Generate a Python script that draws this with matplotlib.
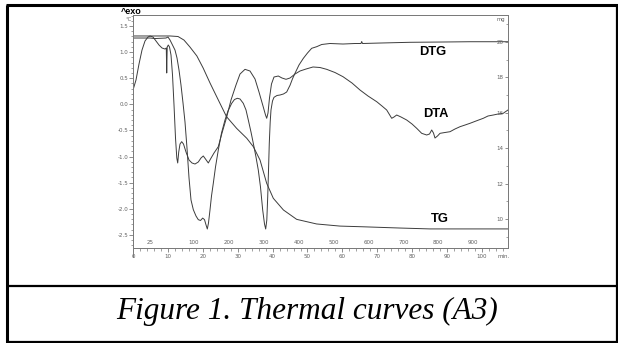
import matplotlib
matplotlib.use("Agg")
import matplotlib.pyplot as plt
from matplotlib.lines import Line2D
from matplotlib.ticker import MultipleLocator, FixedLocator
import matplotlib.transforms as mtransforms

# ---------------- data ----------------
# time in minutes, TG in mg (right axis)
tg_t = [0, 10.6, 12.9, 14.6, 16.3, 18.3, 20.1, 22.1, 24.9, 26.8, 29.7, 32.6, 34.5,
        36.4, 38.3, 40.2, 43.1, 46.9, 52.6, 59.3, 66.0, 76.5, 85.1, 96.6, 107.4]
tg_mg = [20.34, 20.34, 20.31, 20.11, 19.72, 19.21, 18.53, 17.67, 16.54, 15.78, 15.12,
         14.56, 14.08, 13.33, 12.02, 11.17, 10.51, 9.98, 9.72, 9.60, 9.56, 9.49, 9.44,
         9.44, 9.44]

# DTA (left axis, °C)
dta_t = [0, 0.86, 1.72, 2.58, 3.44, 4.3, 4.87, 5.73, 6.59, 7.45, 8.31, 9.17, 9.54, 9.66,
         9.8, 10.11, 10.46, 10.89, 11.32, 11.75, 12.18, 12.55, 12.81, 13.1, 13.47, 13.95,
         14.47, 15.19, 16.05, 16.9, 17.77, 18.71, 19.48, 20.14, 20.77, 21.58, 22.21, 23.21,
         24.44, 25.5, 26.85, 28.08, 29.51, 30.66, 32.09, 33.52, 34.96, 36.1, 37.25, 37.97,
         38.31, 38.68, 39.11, 39.68, 40.4, 41.63, 42.69, 43.84, 44.99, 46.42, 47.85, 49.57,
         51.58, 53.58, 55.5, 57.88, 60.17, 62.75, 65.04, 67.34, 69.83, 71.35, 72.69, 74.13,
         74.79, 75.56, 76.79, 78.42, 79.94, 81.29, 82.72, 84.15, 84.96, 85.59, 86.1, 86.53,
         87.25, 87.97, 89.4, 90.83, 92.26, 93.7, 95.13, 96.56, 98.28, 100.37, 101.72,
         103.24, 104.58, 106.1, 106.59, 107.45]
dta_v = [0.274, 0.466, 0.772, 1.04, 1.213, 1.289, 1.308, 1.289, 1.213, 1.136, 1.079,
         1.059, 1.079, 0.6, 1.098, 1.136, 1.098, 0.944, 0.561, -0.013, -0.646, -1.029,
         -1.124, -0.914, -0.761, -0.716, -0.761, -0.914, -1.067, -1.124, -1.144, -1.105,
         -1.029, -0.99, -1.048, -1.124, -1.048, -0.933, -0.812, -0.55, -0.243, 0.082, 0.37,
         0.58, 0.67, 0.638, 0.485, 0.236, -0.033, -0.205, -0.268, -0.167, 0.121, 0.389,
         0.523, 0.542, 0.504, 0.479, 0.504, 0.58, 0.638, 0.676, 0.715, 0.705, 0.67, 0.609,
         0.529, 0.408, 0.274, 0.159, 0.05, -0.033, -0.109, -0.268, -0.243, -0.205, -0.243,
         -0.301, -0.377, -0.46, -0.556, -0.588, -0.569, -0.492, -0.55, -0.646, -0.607,
         -0.556, -0.54, -0.525, -0.473, -0.429, -0.397, -0.364, -0.32, -0.268, -0.224,
         -0.205, -0.186, -0.172, -0.148, -0.109]

# DTG (left axis scale)
dtg_t = [0, 4.87, 6.3, 9.46, 10.03, 10.6, 11.32, 12.03, 12.61, 13.18, 13.75, 14.33, 14.9,
         15.47, 16.05, 16.62, 17.28, 18.05, 18.71, 19.34, 19.97, 20.49, 20.92, 21.29, 21.63,
         22.06, 22.49, 23.01, 23.64, 24.44, 25.36, 26.36, 27.22, 28.28, 29.08, 29.89, 30.66,
         31.6, 32.38, 33.04, 33.81, 34.47, 35.24, 35.9, 36.53, 37.16, 37.68, 38.02, 38.34,
         38.6, 38.83, 39.05, 39.31, 39.54, 39.97, 40.4, 41.26, 42.12, 43.12, 44.04, 44.56,
         44.99, 45.7, 46.42, 47.56, 48.8, 50, 51.2, 52.64, 54.07, 56.45, 60.17, 63.61, 65.33,
         65.53, 65.76, 70.77, 79.37, 87.97, 96.56, 107.45]
dtg_v = [1.27, 1.27, 1.26, 1.27, 1.289, 1.232, 1.136, 1.04, 0.887, 0.657, 0.37, 0.025,
         -0.339, -0.837, -1.411, -1.833, -2.018, -2.14, -2.21, -2.226, -2.18, -2.21, -2.31,
         -2.389, -2.274, -2.025, -1.757, -1.513, -1.201, -0.876, -0.55, -0.301, -0.128,
         0.019, 0.092, 0.115, 0.102, 0.019, -0.109, -0.301, -0.531, -0.747, -1.01, -1.259,
         -1.585, -2.025, -2.293, -2.389, -2.218, -1.772, -1.259, -0.747, -0.339, -0.109,
         0.063, 0.134, 0.169, 0.178, 0.198, 0.236, 0.307, 0.364, 0.489, 0.594, 0.753, 0.88,
         0.983, 1.073, 1.104, 1.146, 1.165, 1.155, 1.165, 1.165, 1.203, 1.165, 1.174, 1.188,
         1.193, 1.199, 1.199]

left_ticks = [1.5, 1.0, 0.5, 0.0, -0.5, -1.0, -1.5, -2.0, -2.5]
left_labels = ["1.5", "1.0", "0.5", "0.0", "-0.5", "-1.0", "-1.5", "-2.0", "-2.5"]
right_ticks = [10, 12, 14, 16, 18, 20]
time_ticks = [0, 10, 20, 30, 40, 50, 60, 70, 80, 90, 100]
temp_pos = [5, 17.5, 27.5, 37.5, 47.5, 57.5, 67.5, 77.5, 87.5, 97.5]
temp_labels = ["25", "100", "200", "300", "400", "500", "600", "700", "800", "900"]
caption = "Figure 1. Thermal curves (A3)"

# ---------------- figure ----------------
W, H = 618, 343
fig = plt.figure(figsize=(W / 100, H / 100), dpi=100)
fig.patch.set_facecolor("white")

def fx(px):
    return px / W

def fy(py):
    return 1 - py / H

# document frame
for (x0, y0, x1, y1, lw) in [(7, 4.5, 7, 342, 2.2), (6, 5.2, 618, 5.2, 2.2),
                             (616.8, 4.5, 616.8, 342, 1.6), (6, 285.8, 618, 285.8, 1.6),
                             (6, 341.8, 618, 341.8, 1.6)]:
    fig.add_artist(Line2D([fx(x0), fx(x1)], [fy(y0), fy(y1)], color="black",
                          linewidth=lw, solid_capstyle="butt"))

gray = "#7a7a7a"
lab = "#606060"
curve = "#3c3c3c"

ax = fig.add_axes([fx(133), fy(248), fx(508) - fx(133), fy(15) - fy(248)])
ax.set_facecolor("none")
ax.set_xlim(0, 107.45)
ax.set_ylim(-2.753, 1.711)
for s in ax.spines.values():
    s.set_color(gray)
    s.set_linewidth(0.7)
# left spine continues a little below the time axis
ax.plot([0, 0], [-2.753, -2.93], color=gray, lw=0.7, clip_on=False)

ax.plot(dta_t, dta_v, color=curve, lw=0.7)
ax.plot(dtg_t, dtg_v, color=curve, lw=0.7)

ax.yaxis.set_major_locator(FixedLocator(left_ticks))
ax.set_yticklabels(left_labels)
ax.yaxis.set_minor_locator(MultipleLocator(0.1))
ax.tick_params(axis="y", which="major", direction="out", length=3, width=0.6,
               color=gray, labelsize=4, labelcolor=lab, pad=0.5)
ax.tick_params(axis="y", which="minor", direction="out", length=1.6, width=0.5, color=gray)
ax.xaxis.set_major_locator(FixedLocator(time_ticks))
ax.xaxis.set_minor_locator(MultipleLocator(2))
ax.tick_params(axis="x", which="major", direction="out", length=3, width=0.6,
               color=gray, labelsize=4, labelcolor=lab, pad=1.5)
ax.tick_params(axis="x", which="minor", direction="out", length=2, width=0.5, color=gray)

ax2 = ax.twinx()
ax2.set_ylim(8.362, 21.525)
ax2.plot(tg_t, tg_mg, color=curve, lw=0.7)
for s in ax2.spines.values():
    s.set_color(gray)
    s.set_linewidth(0.7)
ax2.yaxis.set_major_locator(FixedLocator(right_ticks))
ax2.yaxis.set_minor_locator(MultipleLocator(1))
ax2.tick_params(axis="y", which="major", direction="in", length=2.5, width=0.6,
                color=gray, labelsize=4, labelcolor=lab, pad=-3)
ax2.tick_params(axis="y", which="minor", direction="in", length=1.5, width=0.5, color=gray)
for t in ax2.get_yticklabels():
    t.set_horizontalalignment("right")

# temperature labels above the time axis
btr = mtransforms.blended_transform_factory(ax.transData, ax.transAxes)
for p, l in zip(temp_pos, temp_labels):
    ax.text(p, 0.022, l, transform=btr, ha="center", va="center", fontsize=4, color=lab)
ax.text(106.3, -0.035, "min.", transform=btr, ha="center", va="center", fontsize=4,
        color=lab, clip_on=False)

# curve names
fig.text(fx(433), fy(52), "DTG", ha="center", va="center", fontsize=9.3,
         fontweight="bold", family="Liberation Sans")
fig.text(fx(436), fy(114), "DTA", ha="center", va="center", fontsize=9.3,
         fontweight="bold", family="Liberation Sans")
fig.text(fx(439.5), fy(219), "TG", ha="center", va="center", fontsize=9.3,
         fontweight="bold", family="Liberation Sans")

fig.text(fx(121), fy(11), "^exo", ha="left", va="center", fontsize=6.5,
         fontweight="bold", family="Liberation Sans")
fig.text(fx(125), fy(19.5), "°C", ha="left", va="center", fontsize=3.8, color=lab)
fig.text(fx(505), fy(20), "mg", ha="right", va="center", fontsize=3.8, color=lab)

fig.text(fx(307), fy(311), caption, ha="center", va="center", fontsize=22.5,
         style="italic", family="Liberation Serif")

fig.savefig("out.png", dpi=100, facecolor="white")
